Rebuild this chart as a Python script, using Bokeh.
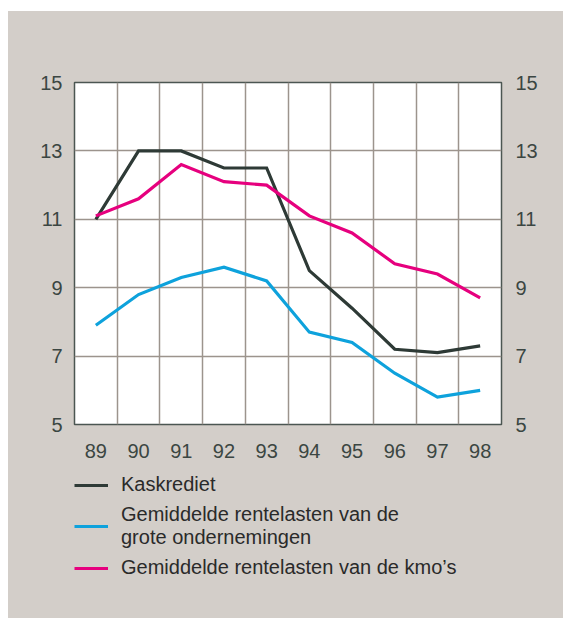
from bokeh.plotting import figure
from bokeh.models import Range1d, LinearAxis, FixedTicker, Legend, LegendItem
from bokeh.layouts import column
from bokeh.embed import file_html
from bokeh.resources import INLINE

years = [89, 90, 91, 92, 93, 94, 95, 96, 97, 98]
year_labels = ["89", "90", "91", "92", "93", "94", "95", "96", "97", "98"]
kaskrediet = [11.0, 13.0, 13.0, 12.5, 12.5, 9.5, 8.4, 7.2, 7.1, 7.3]
grote_ondernemingen = [7.9, 8.8, 9.3, 9.6, 9.2, 7.7, 7.4, 6.5, 5.8, 6.0]
kmos = [11.1, 11.6, 12.6, 12.1, 12.0, 11.1, 10.6, 9.7, 9.4, 8.7]
y_ticks = [5, 7, 9, 11, 13, 15]
series_names = ["Kaskrediet",
                "Gemiddelde rentelasten van de\ngrote ondernemingen",
                "Gemiddelde rentelasten van de kmo\u2019s"]
series_colors = ["#2e3a36", "#0ea2dc", "#e6007e"]

BG = "#d3cec9"
TEXT = "#3b4642"
FONT = "Liberation Sans"

p = figure(width=555, height=460,
           x_range=Range1d(years[0] - 0.5, years[-1] + 0.5),
           y_range=Range1d(y_ticks[0], y_ticks[-1]),
           output_backend="svg", toolbar_location=None,
           background_fill_color="white", border_fill_color=BG,
           min_border_left=66, min_border_right=62,
           min_border_top=71, min_border_bottom=47,
           outline_line_color="#4b5652", outline_line_width=1.5)

# grids
p.xgrid.ticker = FixedTicker(ticks=[y + 0.5 for y in years[:-1]])
p.ygrid.ticker = FixedTicker(ticks=y_ticks[1:-1])
for g in (p.xgrid, p.ygrid):
    g.grid_line_color = "#9c948d"
    g.grid_line_width = 1.5

def style_axis(ax, standoff):
    ax.axis_line_color = None
    ax.major_tick_line_color = None
    ax.minor_tick_line_color = None
    ax.major_label_text_font = FONT
    ax.major_label_text_font_size = "20px"
    ax.major_label_text_color = TEXT
    ax.major_label_standoff = standoff

p.xaxis.ticker = FixedTicker(ticks=years)
p.xaxis.major_label_overrides = {y: l for y, l in zip(years, year_labels)}
style_axis(p.xaxis[0], 13)
p.yaxis.ticker = FixedTicker(ticks=y_ticks)
style_axis(p.yaxis[0], 6)
right = LinearAxis(ticker=FixedTicker(ticks=y_ticks))
style_axis(right, 8)
p.add_layout(right, "right")

for vals, col in zip([kaskrediet, grote_ondernemingen, kmos], series_colors):
    p.line(years, vals, line_color=col, line_width=3.2, line_join="miter")

# legend area (below the chart, on the same grey panel)
p2 = figure(width=555, height=147, x_axis_type=None, y_axis_type=None,
            output_backend="svg", toolbar_location=None,
            background_fill_alpha=0, border_fill_alpha=0,
            min_border=0, outline_line_color=None)
p2.xgrid.visible = False
p2.ygrid.visible = False
leg_renderers = [p2.line([0], [0], line_color=c, line_width=3.2) for c in series_colors]
legend = Legend(items=[LegendItem(label=n, renderers=[r]) for n, r in zip(series_names, leg_renderers)],
                location=(0, 39), orientation="vertical",
                background_fill_alpha=0, border_line_color=None,
                padding=0, margin=0, spacing=7,
                glyph_width=34, glyph_height=20, label_height=20,
                label_standoff=13,
                label_text_font=FONT, label_text_font_size="20px",
                label_text_color="#2a2a2a", label_text_line_height=1.0)
p2.add_layout(legend, "center")

layout = column(p, p2, spacing=0)
layout.margin = (11, 0, 0, 8)
layout.styles = {"background-color": BG}

open("out.html", "w").write(file_html(layout, INLINE))
